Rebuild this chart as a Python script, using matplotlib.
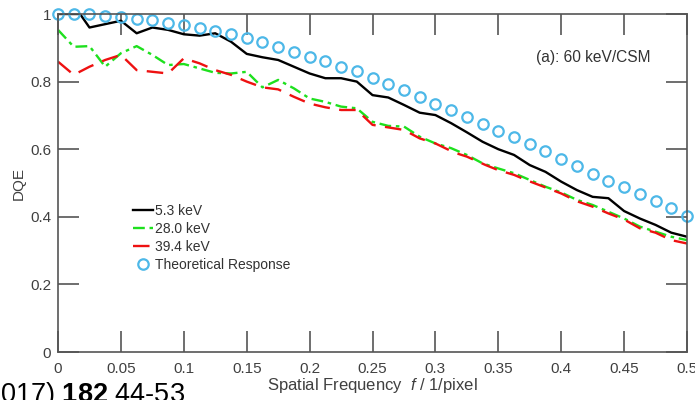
import matplotlib
matplotlib.use("Agg")
import matplotlib.pyplot as plt
import numpy as np

plt.rcParams['font.family'] = ['Liberation Sans', 'DejaVu Sans']
plt.rcParams['mathtext.fontset'] = 'custom'
plt.rcParams['mathtext.rm'] = 'Liberation Sans'
plt.rcParams['mathtext.it'] = 'Liberation Sans:italic'
plt.rcParams['mathtext.bf'] = 'Liberation Sans:bold'

# theoretical response, every 0.0125 1/pixel
f_theory = np.arange(41) * 0.0125
dqe_theory = [1.0, 1.0, 0.999, 0.995, 0.99, 0.985, 0.981, 0.974, 0.967, 0.959,
              0.951, 0.942, 0.930, 0.918, 0.903, 0.888, 0.874, 0.861, 0.844, 0.830,
              0.812, 0.794, 0.775, 0.755, 0.734, 0.716, 0.696, 0.676, 0.655, 0.636,
              0.615, 0.595, 0.572, 0.550, 0.528, 0.507, 0.487, 0.468, 0.448, 0.425,
              0.403]

# 5.3 keV
f_53 = [0, 0.0125, 0.0175, 0.025, 0.05, 0.0625, 0.075, 0.0875, 0.1, 0.1125,
        0.125, 0.1375, 0.15, 0.1625, 0.175, 0.1875, 0.2, 0.2125, 0.225, 0.2375,
        0.25, 0.2625, 0.275, 0.2875, 0.3, 0.3125, 0.325, 0.3375, 0.35, 0.3625,
        0.375, 0.3875, 0.4, 0.4125, 0.425, 0.4375, 0.45, 0.4625, 0.475, 0.4875, 0.5]
dqe_53 = [1.0, 1.0, 1.0, 0.960, 0.980, 0.943, 0.960, 0.953, 0.940, 0.936,
          0.943, 0.918, 0.882, 0.872, 0.864, 0.844, 0.824, 0.810, 0.810, 0.800,
          0.760, 0.753, 0.731, 0.708, 0.701, 0.677, 0.650, 0.622, 0.600, 0.583,
          0.553, 0.533, 0.504, 0.479, 0.459, 0.455, 0.417, 0.395, 0.376, 0.353, 0.341]

# 28.0 keV
f_280 = [0, 0.0125, 0.025, 0.0375, 0.05, 0.0625, 0.075, 0.0875, 0.1, 0.1125,
         0.125, 0.1375, 0.15, 0.1625, 0.175, 0.1875, 0.2, 0.2125, 0.225, 0.2375,
         0.25, 0.2625, 0.275, 0.2875, 0.3, 0.3125, 0.325, 0.3375, 0.35, 0.3625,
         0.375, 0.3875, 0.4, 0.4125, 0.425, 0.4375, 0.45, 0.4625, 0.475, 0.4875, 0.5]
dqe_280 = [0.953, 0.903, 0.905, 0.844, 0.884, 0.905, 0.879, 0.849, 0.852, 0.839,
           0.826, 0.824, 0.829, 0.783, 0.805, 0.780, 0.750, 0.740, 0.726, 0.721,
           0.681, 0.669, 0.667, 0.637, 0.617, 0.603, 0.583, 0.558, 0.543, 0.529,
           0.509, 0.489, 0.472, 0.450, 0.435, 0.415, 0.395, 0.371, 0.356, 0.341, 0.331]

# 39.4 keV
f_394 = [0, 0.0125, 0.025, 0.0375, 0.05, 0.0625, 0.075, 0.0875, 0.1, 0.1125,
         0.125, 0.1375, 0.15, 0.1625, 0.175, 0.1875, 0.2, 0.2125, 0.225, 0.2375,
         0.25, 0.275, 0.2875, 0.3, 0.315, 0.325, 0.34, 0.35, 0.3625, 0.372,
         0.386, 0.4, 0.4125, 0.425, 0.4375, 0.45, 0.4625, 0.475, 0.4875, 0.5]
dqe_394 = [0.859, 0.820, 0.844, 0.864, 0.879, 0.834, 0.829, 0.824, 0.869, 0.854,
           0.834, 0.820, 0.800, 0.783, 0.777, 0.755, 0.735, 0.724, 0.716, 0.716,
           0.672, 0.657, 0.632, 0.617, 0.590, 0.578, 0.553, 0.538, 0.524, 0.509,
           0.489, 0.469, 0.446, 0.430, 0.410, 0.392, 0.366, 0.353, 0.331, 0.321]

gray = '#404040'

fig = plt.figure(figsize=(6.95, 4.0), dpi=100)
ax = fig.add_axes([0.0835, 0.12, 0.905, 0.845])

ax.plot(f_53, dqe_53, color='black', lw=1.7, label='5.3 keV')
ax.plot(f_280, dqe_280, color='#1ee01e', lw=1.7, dashes=[5, 2, 1.5, 2], label='28.0 keV')
ax.plot(f_394, dqe_394, color='#ee1111', lw=1.7, dashes=[7, 4], label='39.4 keV')
ax.plot(f_theory, dqe_theory, ls='none', marker='o', ms=7.5, mfc='none',
        mec='#4db8e8', mew=1.6, clip_on=False, label='Theoretical Response')

ax.set_xlim(0, 0.5)
ax.set_ylim(0, 1)
ax.set_xticks(np.arange(0, 0.51, 0.05))
ax.set_xticklabels(['0', '0.05', '0.1', '0.15', '0.2', '0.25', '0.3', '0.35', '0.4', '0.45', '0.5'])
ax.set_yticks(np.arange(0, 1.01, 0.2))
ax.set_yticklabels(['0', '0.2', '0.4', '0.6', '0.8', '1'])
ax.tick_params(direction='in', length=15, width=1.2, color='#555555', labelcolor=gray,
               labelsize=11, top=True, right=True, pad=5)
ax.tick_params(axis='x', pad=7.5)
for s in ax.spines.values():
    s.set_color('#555555')
    s.set_linewidth(1.2)

ax.set_xlabel('Spatial Frequency  $f$ / 1/pixel', color=gray, fontsize=12, labelpad=0)
ax.set_ylabel('DQE', color=gray, fontsize=11, labelpad=3)

ax.text(0.38, 0.87, '(a): 60 keV/CSM', color='#333333', fontsize=11.2, va='center')

leg = ax.legend(loc='upper left', bbox_to_anchor=(0.11, 0.455), frameon=False,
                fontsize=10, handlelength=1.45, handletextpad=0.15, labelspacing=0.3,
                borderaxespad=0, labelcolor='#333333')

fig.text(-0.034, -0.004, '(2017) $\\mathbf{182}$ 44-53', fontsize=19.5, color='black',
         va='baseline', ha='left')

fig.savefig('out.png', dpi=100)
